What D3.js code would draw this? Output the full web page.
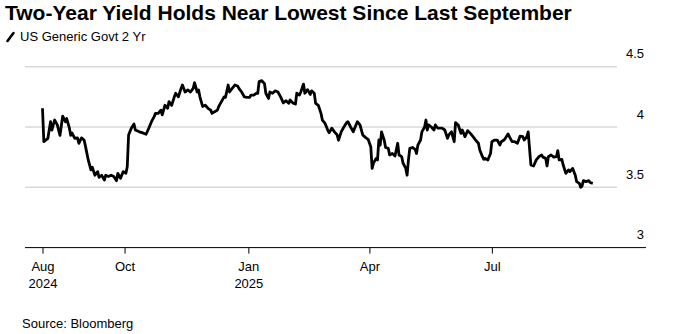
<!DOCTYPE html>
<html>
<head>
<meta charset="utf-8">
<script src="https://cdn.jsdelivr.net/npm/d3@7"></script>
<style>
  body { margin: 0; background: #fff; }
  svg { display: block; font-family: "Liberation Sans", Arial, sans-serif; }
</style>
</head>
<body>
<div id="chart"></div>
<script>
const TITLE = "Two-Year Yield Holds Near Lowest Since Last September";
const SERIES_NAME = "US Generic Govt 2 Yr";
const SOURCE = "Source: Bloomberg";

const yTicks = [3, 3.5, 4, 4.5];
const xTickDates = ["2024-08-01", "2024-10-01", "2025-01-01", "2025-04-01", "2025-07-01"];
const xTickMonths = ["Aug", "Oct", "Jan", "Apr", "Jul"];
const xTickYears = ["2024", "", "2025", "", ""];

// readings of the yield line, date and percent
const dates = [
  "2024-08-01","2024-08-02","2024-08-05","2024-08-07","2024-08-08","2024-08-10","2024-08-12","2024-08-14",
  "2024-08-16","2024-08-18","2024-08-19","2024-08-21","2024-08-22","2024-08-23","2024-08-25","2024-08-27",
  "2024-08-28","2024-08-30","2024-09-01","2024-09-02","2024-09-04","2024-09-06","2024-09-07","2024-09-09",
  "2024-09-11","2024-09-12","2024-09-14","2024-09-16","2024-09-17","2024-09-19","2024-09-21","2024-09-23",
  "2024-09-25","2024-09-26","2024-09-28","2024-09-30","2024-10-02","2024-10-03","2024-10-04","2024-10-06",
  "2024-10-08","2024-10-09","2024-10-12","2024-10-14","2024-10-17","2024-10-19","2024-10-21","2024-10-23",
  "2024-10-24","2024-10-26","2024-10-28","2024-10-29","2024-10-31","2024-11-02","2024-11-03","2024-11-05",
  "2024-11-07","2024-11-08","2024-11-10","2024-11-12","2024-11-13","2024-11-14","2024-11-15","2024-11-17",
  "2024-11-19","2024-11-21","2024-11-22","2024-11-24","2024-11-25","2024-11-26","2024-11-28","2024-11-30",
  "2024-12-02","2024-12-04","2024-12-05","2024-12-07","2024-12-09","2024-12-10","2024-12-12","2024-12-14",
  "2024-12-15","2024-12-17","2024-12-18","2024-12-20","2024-12-22","2024-12-24","2024-12-25","2024-12-27",
  "2024-12-29","2024-12-31","2025-01-02","2025-01-03","2025-01-05","2025-01-07","2025-01-08","2025-01-09",
  "2025-01-11","2025-01-13","2025-01-14","2025-01-16","2025-01-17","2025-01-19","2025-01-21","2025-01-23",
  "2025-01-25","2025-01-27","2025-01-29","2025-01-31","2025-02-01","2025-02-03","2025-02-05","2025-02-06",
  "2025-02-08","2025-02-09","2025-02-11","2025-02-12","2025-02-14","2025-02-16","2025-02-17","2025-02-19",
  "2025-02-20","2025-02-22","2025-02-24","2025-02-25","2025-02-27","2025-03-01","2025-03-02","2025-03-04",
  "2025-03-06","2025-03-08","2025-03-09","2025-03-11","2025-03-13","2025-03-15","2025-03-16","2025-03-18",
  "2025-03-20","2025-03-21","2025-03-23","2025-03-25","2025-03-27","2025-03-29","2025-03-31","2025-04-02",
  "2025-04-03","2025-04-04","2025-04-06","2025-04-07","2025-04-08","2025-04-09","2025-04-10","2025-04-12",
  "2025-04-13","2025-04-15","2025-04-16","2025-04-18","2025-04-20","2025-04-22","2025-04-23","2025-04-25",
  "2025-04-26","2025-04-28","2025-04-29","2025-04-30","2025-05-01","2025-05-03","2025-05-05","2025-05-06",
  "2025-05-07","2025-05-09","2025-05-10","2025-05-12","2025-05-13","2025-05-14","2025-05-15","2025-05-17",
  "2025-05-19","2025-05-20","2025-05-21","2025-05-22","2025-05-25","2025-05-27","2025-05-29","2025-05-30",
  "2025-06-01","2025-06-03","2025-06-04","2025-06-06","2025-06-08","2025-06-09","2025-06-11","2025-06-13",
  "2025-06-15","2025-06-17","2025-06-19","2025-06-21","2025-06-22","2025-06-24","2025-06-25","2025-06-26",
  "2025-06-28","2025-06-30","2025-07-01","2025-07-03","2025-07-05","2025-07-07","2025-07-08","2025-07-10",
  "2025-07-11","2025-07-13","2025-07-14","2025-07-16","2025-07-18","2025-07-20","2025-07-22","2025-07-24",
  "2025-07-25","2025-07-27","2025-07-28","2025-07-30","2025-08-01","2025-08-03","2025-08-05","2025-08-07",
  "2025-08-08","2025-08-10","2025-08-11","2025-08-12","2025-08-14","2025-08-16","2025-08-18","2025-08-19",
  "2025-08-20","2025-08-22","2025-08-23","2025-08-25","2025-08-27","2025-08-28","2025-08-30","2025-09-01",
  "2025-09-02","2025-09-04","2025-09-05","2025-09-06","2025-09-07","2025-09-09","2025-09-11","2025-09-12",
  "2025-09-14"
];

const yields = [
  4.155,3.878,3.906,4.044,3.975,4.058,4.017,3.930,
  4.090,4.044,4.070,3.990,3.930,3.950,3.906,3.910,
  3.865,3.910,3.890,3.837,3.727,3.644,3.666,3.600,
  3.630,3.583,3.600,3.560,3.600,3.590,3.600,3.590,
  3.555,3.616,3.575,3.630,3.616,3.670,3.934,3.990,
  4.025,3.975,3.960,3.953,3.940,3.990,4.044,4.086,
  4.113,4.113,4.140,4.100,4.180,4.155,4.210,4.180,
  4.250,4.280,4.250,4.320,4.348,4.320,4.290,4.307,
  4.290,4.320,4.367,4.290,4.307,4.250,4.170,4.180,
  4.155,4.140,4.113,4.127,4.140,4.170,4.210,4.250,
  4.246,4.348,4.290,4.320,4.348,4.340,4.320,4.290,
  4.250,4.246,4.246,4.265,4.265,4.280,4.280,4.376,
  4.384,4.360,4.280,4.237,4.290,4.280,4.300,4.290,
  4.250,4.200,4.218,4.196,4.224,4.200,4.190,4.280,
  4.265,4.290,4.356,4.280,4.310,4.270,4.300,4.280,
  4.196,4.180,4.113,4.058,4.030,3.975,3.953,3.990,
  3.960,3.934,3.890,3.960,4.000,4.036,4.044,4.000,
  3.960,3.990,4.044,4.017,3.934,3.914,3.898,3.837,
  3.657,3.700,3.740,3.727,3.892,3.850,3.960,3.890,
  3.830,3.823,3.768,3.780,3.760,3.865,3.768,3.754,
  3.700,3.657,3.600,3.727,3.823,3.830,3.815,3.780,
  3.850,3.892,3.960,4.000,4.058,3.975,4.017,4.000,
  3.975,4.017,4.000,3.990,3.990,3.975,3.906,3.934,
  3.960,3.878,4.036,4.017,3.947,3.975,3.920,3.970,
  3.947,3.920,3.890,3.865,3.810,3.754,3.732,3.740,
  3.727,3.780,3.878,3.892,3.892,3.850,3.878,3.892,
  3.906,3.942,3.920,3.878,3.878,3.865,3.925,3.920,
  3.892,3.920,3.960,3.685,3.677,3.727,3.754,3.768,
  3.750,3.740,3.677,3.754,3.768,3.750,3.754,3.804,
  3.727,3.732,3.685,3.616,3.644,3.630,3.657,3.600,
  3.547,3.533,3.500,3.510,3.555,3.547,3.555,3.540,
  3.533
];

const width = 678, height = 334;
const parse = d3.utcParse("%Y-%m-%d");
const data = dates.map(function(d, i) { return { date: parse(d), value: yields[i] }; });

const svg = d3.select("#chart").append("svg")
  .attr("width", width)
  .attr("height", height);

const x = d3.scaleUtc()
  .domain([parse("2024-07-19"), parse("2025-10-02")])
  .range([25, 617]);

const y = d3.scaleLinear()
  .domain([3, 4.5])
  .range([247.6, 66.7]);

// title and legend
svg.append("text")
  .attr("x", 5)
  .attr("y", 20)
  .attr("font-size", 21)
  .attr("font-weight", "bold")
  .attr("fill", "#000")
  .text(TITLE);

svg.append("line")
  .attr("x1", 7.5).attr("y1", 41)
  .attr("x2", 13.5).attr("y2", 33)
  .attr("stroke", "#000")
  .attr("stroke-width", 2.6)
  .attr("stroke-linecap", "round");

svg.append("text")
  .attr("x", 20)
  .attr("y", 41)
  .attr("font-size", 13)
  .attr("fill", "#000")
  .text(SERIES_NAME);

// gridlines
svg.append("g")
  .selectAll("line")
  .data(yTicks.filter(function(t) { return t > 3; }))
  .enter().append("line")
  .attr("x1", 25)
  .attr("x2", 617)
  .attr("y1", function(d) { return y(d); })
  .attr("y2", function(d) { return y(d); })
  .attr("stroke", "#d9d9d9")
  .attr("stroke-width", 1.5);

// y labels sit above their gridline on the right
const yAxis = d3.axisRight(y)
  .tickValues(yTicks)
  .tickSize(0)
  .tickPadding(0)
  .tickFormat(function(d) { return String(d); });

const yg = svg.append("g")
  .attr("transform", "translate(644,0)")
  .call(yAxis);
yg.select(".domain").remove();
yg.selectAll("text")
  .attr("text-anchor", "end")
  .attr("dy", -9)
  .attr("font-size", 13)
  .attr("font-family", "Liberation Sans, Arial, sans-serif")
  .attr("fill", "#000");

// x axis
const xAxis = d3.axisBottom(x)
  .tickValues(xTickDates.map(parse))
  .tickSize(6)
  .tickPadding(8)
  .tickFormat(function(d, i) { return xTickMonths[i]; });

const xg = svg.append("g")
  .attr("transform", "translate(0," + y(3) + ")")
  .call(xAxis);
xg.select(".domain").remove();
xg.selectAll(".tick line").attr("stroke", "#000");
xg.selectAll(".tick text")
  .attr("font-size", 13)
  .attr("font-family", "Liberation Sans, Arial, sans-serif")
  .attr("fill", "#000")
  .each(function(d, i) {
    if (xTickYears[i]) {
      d3.select(this).append("tspan")
        .attr("x", 0)
        .attr("dy", "1.3em")
        .text(xTickYears[i]);
    }
  });

svg.append("line")
  .attr("x1", 25)
  .attr("x2", 646)
  .attr("y1", y(3))
  .attr("y2", y(3))
  .attr("stroke", "#000")
  .attr("stroke-width", 1);

// the yield line
const line = d3.line()
  .x(function(d) { return x(d.date); })
  .y(function(d) { return y(d.value); });

svg.append("path")
  .datum(data)
  .attr("fill", "none")
  .attr("stroke", "#000")
  .attr("stroke-width", 2.8)
  .attr("stroke-linejoin", "round")
  .attr("d", line);

svg.append("text")
  .attr("x", 22)
  .attr("y", 328)
  .attr("font-size", 13)
  .attr("fill", "#000")
  .text(SOURCE);
</script>
</body>
</html>
